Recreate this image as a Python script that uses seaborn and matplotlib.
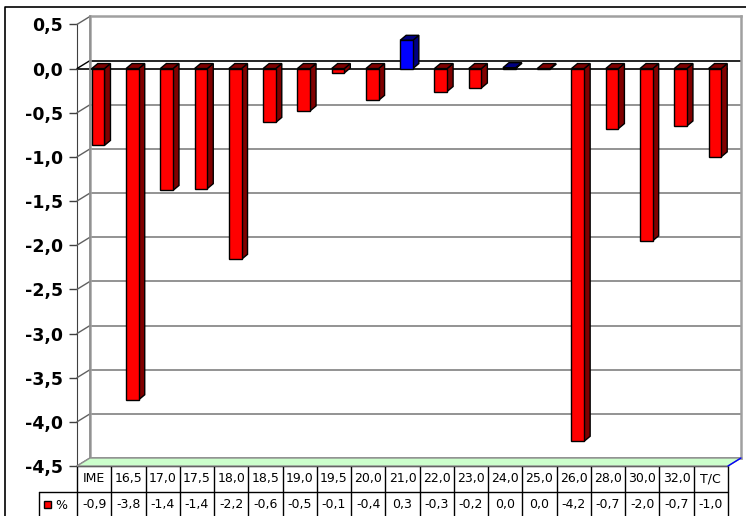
import numpy as np
import pandas as pd
import seaborn as sns
import matplotlib
matplotlib.use("Agg")
from matplotlib import pyplot as plt
from matplotlib.patches import Polygon, Rectangle
from matplotlib.lines import Line2D

# data
categories = ['IME', '16,5', '17,0', '17,5', '18,0', '18,5', '19,0', '19,5', '20,0', '21,0',
              '22,0', '23,0', '24,0', '25,0', '26,0', '28,0', '30,0', '32,0', 'T/C']
values = [-0.87, -3.75, -1.38, -1.36, -2.16, -0.61, -0.48, -0.05, -0.36, 0.32,
          -0.26, -0.22, 0.01, -0.01, -4.22, -0.68, -1.95, -0.65, -1.00]
value_labels = ['-0,9', '-3,8', '-1,4', '-1,4', '-2,2', '-0,6', '-0,5', '-0,1', '-0,4', '0,3',
                '-0,3', '-0,2', '0,0', '0,0', '-4,2', '-0,7', '-2,0', '-0,7', '-1,0']
yticks = [0.5, 0.0, -0.5, -1.0, -1.5, -2.0, -2.5, -3.0, -3.5, -4.0, -4.5]
series_name = '%'

df = pd.DataFrame({'cat': categories, 'val': values})
df['sign'] = np.where(df['val'] >= 0, 'pos', 'neg')

sns.set_style('white')
plt.rcParams['font.family'] = ['DejaVu Sans']
plt.rcParams['text.color'] = 'black'
plt.rcParams['ytick.color'] = 'black'

W, H = 746, 516
fig = plt.figure(figsize=(W / 100, H / 100), dpi=100)

# pixel layout
x0, x1 = 77, 728          # front plane
ytop, ybot = 24.4, 466    # 0.5 and -4.5 on the front plane
ddx, ddy = 13, 8          # depth shift of the back wall

def fx(px):
    return px / W

def fy(py):
    return 1 - py / H

# back wall
wall = fig.add_axes([fx(x0 + ddx), fy(ybot - ddy), fx(x1 - x0), (ybot - ytop) / H])
wall.set_xlim(-0.5, len(categories) - 0.5)
wall.set_ylim(-4.5, 0.5)
for v in yticks:
    wall.axhline(v, color='black' if v == 0 else '#808080', lw=1.2, zorder=1)
wall.set_xticks([])
wall.set_yticks([])
for s in wall.spines.values():
    s.set_color('#a0a0a0')
    s.set_linewidth(1.8)

# front plane with the bars
ax = fig.add_axes([fx(x0), fy(ybot), fx(x1 - x0), (ybot - ytop) / H])
ax.patch.set_alpha(0)
ax.axhline(0, color='black', lw=1.2, zorder=0)
sns.barplot(data=df, x='cat', y='val', hue='sign', palette={'neg': '#ff0000', 'pos': '#0000ff'},
            saturation=1, width=0.37, legend=False, edgecolor='black', linewidth=1, ax=ax, zorder=3)
ax.set_xlim(-0.5, len(categories) - 0.5)
ax.set_ylim(-4.5, 0.5)
ax.set_yticks(yticks)
ax.set_yticklabels([f'{v:.1f}'.replace('.', ',') for v in yticks], fontsize=12.5, fontweight='bold')
ax.tick_params(axis='y', length=6, width=1, color='#404040', labelcolor='black', pad=4, left=True)
ax.set_xticks([])
ax.set_xlabel('')
ax.set_ylabel('')
for s in ['top', 'right', 'bottom']:
    ax.spines[s].set_visible(False)
ax.spines['left'].set_color('#404040')

# 3D look for the bars: shift the front faces and add side / top faces
cat_px = (x1 - x0) / len(categories)
val_px = (ybot - ytop) / 5.0
shift = 4 / cat_px
bdx, bdy = 6 / cat_px, 5 / val_px
dark = {'#ff0000': '#800000', '#0000ff': '#000080'}
for p in list(ax.patches):
    p.set_x(p.get_x() + shift)
    bx, bw = p.get_x(), p.get_width()
    lo = min(0, p.get_height())
    hi = max(0, p.get_height())
    face = matplotlib.colors.to_hex(p.get_facecolor())
    dc = dark.get(face, '#800000')
    side = Polygon([(bx + bw, lo), (bx + bw + bdx, lo + bdy), (bx + bw + bdx, hi + bdy), (bx + bw, hi)],
                   closed=True, facecolor=dc, edgecolor='black', lw=1, zorder=2)
    top = Polygon([(bx, hi), (bx + bdx, hi + bdy), (bx + bw + bdx, hi + bdy), (bx + bw, hi)],
                  closed=True, facecolor=dc, edgecolor='black', lw=1, zorder=2)
    ax.add_patch(side)
    ax.add_patch(top)

# diagonal connectors from the axis to the wall, and the floor
for v in yticks:
    py = ytop + (0.5 - v) * (ybot - ytop) / 5.0
    fig.add_artist(Line2D([fx(x0), fx(x0 + ddx)], [fy(py), fy(py - ddy)],
                          color='black' if v == 0 else '#606060', lw=1))
fig.add_artist(Line2D([fx(x0 + ddx), fx(x0 + ddx)], [fy(ybot - ddy), fy(ytop - ddy)], color='#909090', lw=1.2))
floor = Polygon([(fx(x0), fy(ybot)), (fx(x0 + ddx), fy(ybot - ddy)), (fx(x1 + ddx), fy(ybot - ddy)), (fx(x1), fy(ybot))],
                closed=True, transform=fig.transFigure, facecolor='#ccffcc', edgecolor='#909090', lw=1, zorder=5)
fig.add_artist(floor)
fig.add_artist(Line2D([fx(x1), fx(x1 + ddx)], [fy(ybot), fy(ybot - ddy)], color='#0000ff', lw=1, zorder=6))

# data table under the chart
yend = 517
tab = fig.add_axes([fx(x0), fy(yend), fx(x1 - x0), (yend - ybot) / H])
tab.set_xlim(-0.5, len(categories) - 0.5)
tab.set_ylim(0, 2)
tab.axis('off')
lc = '#000000'
tab.plot([-0.5, len(categories) - 0.5], [2, 2], color=lc, lw=1, clip_on=False)
leg_w = (x0 - 39) / cat_px
tab.plot([-0.5 - leg_w, len(categories) - 0.5], [1, 1], color=lc, lw=1, clip_on=False)
tab.plot([-0.5 - leg_w, -0.5 - leg_w], [0, 1], color=lc, lw=1, clip_on=False)
for k in range(len(categories) + 1):
    tab.plot([k - 0.5, k - 0.5], [0, 2], color=lc, lw=1, clip_on=False)
for i, (c, t) in enumerate(zip(categories, value_labels)):
    tab.text(i, 1.5, c, ha='center', va='center', fontsize=9)
    tab.text(i, 0.5, t, ha='center', va='center', fontsize=9)
sq = 7 / cat_px
tab.add_patch(Rectangle((-0.5 - leg_w + 5 / cat_px, 0.5 - 0.14), sq, 0.28, facecolor='#ff0000',
                        edgecolor='black', lw=1, clip_on=False))
tab.text(-0.5 - leg_w + 16 / cat_px, 0.45, series_name, ha='left', va='center', fontsize=9)

# outer frame
fig.add_artist(Line2D([fx(5), fx(5), fx(W)], [fy(H), fy(7), fy(7)], color='black', lw=1.2))

fig.savefig('out.png', dpi=100)
